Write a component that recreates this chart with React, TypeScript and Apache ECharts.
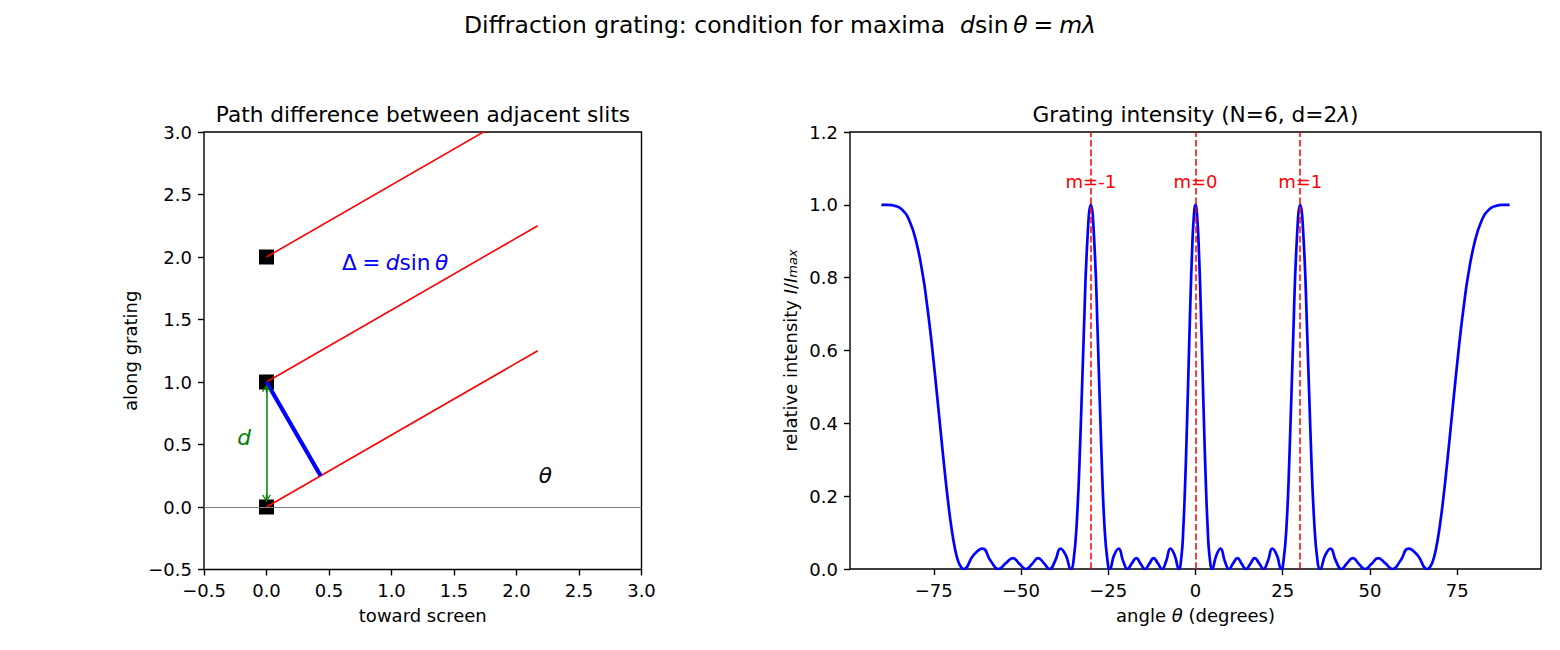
import React, { useEffect, useRef } from "react";
import * as echarts from "echarts";

// ---------------- Left panel (geometry) ----------------
const slitPositions: [number, number][] = [[0, 0], [0, 1], [0, 2]];
const rayEnds: [number, number][] = [[2.17, 1.25], [2.17, 2.25], [2.17, 3.25]];
const pathDiffSegment: [number, number][] = [[0, 1], [0.433, 0.25]];
const spacingArrow: [number, number][] = [[0, 0.07], [0, 0.95]];
const baselineY = 0;
const annotationTexts = ["{n|Δ\u2005=\u2005}{i|d}{n|sin\u2009}{i|θ}", "{i|d}", "{i|θ}"];
const annotationX = [0.6, -0.18, 2.23];
const annotationY = [1.96, 0.56, 0.256];

// ---------------- Right panel (intensity) ----------------
const intensityCurve: [number, number][] = [
  [-90, 1], [-88, 1], [-86, 0.997], [-84, 0.986], [-82, 0.957], [-80, 0.898], [-78, 0.799], [-77, 0.731],
  [-76, 0.654], [-75, 0.566], [-74, 0.472], [-73, 0.376], [-72, 0.281], [-71, 0.193], [-70, 0.118], [-69, 0.06],
  [-68, 0.021], [-67, 0.003], [-66.44, 0], [-63.61, 0.038], [-61.04, 0.056], [-58.67, 0.022], [-56.44, 0],
  [-54.34, 0.016], [-52.33, 0.03], [-50.43, 0.014], [-48.59, 0], [-46.82, 0.014], [-45.1, 0.03], [-43.43, 0.016],
  [-41.81, 0], [-40.23, 0.022], [-38.68, 0.056], [-37.17, 0.038], [-35.69, 0], [-35, 0.018], [-34, 0.131],
  [-33, 0.358], [-32, 0.649], [-31, 0.9], [-30, 1], [-29, 0.898], [-28, 0.637], [-27, 0.333], [-26, 0.104],
  [-25, 0.006], [-24.62, 0], [-23.32, 0.038], [-22.02, 0.056], [-20.74, 0.022], [-19.47, 0], [-18.21, 0.016],
  [-16.96, 0.03], [-15.71, 0.014], [-14.48, 0], [-13.25, 0.014], [-12.02, 0.03], [-10.81, 0.016], [-9.59, 0],
  [-8.39, 0.022], [-7.18, 0.056], [-5.98, 0.038], [-4.78, 0], [-4, 0.037], [-3.5, 0.11], [-3, 0.226],
  [-2.5, 0.377], [-2, 0.55], [-1.5, 0.722], [-1, 0.867], [-0.5, 0.965], [0, 1],
  [0.5, 0.965], [1, 0.867], [1.5, 0.722], [2, 0.55], [2.5, 0.377], [3, 0.226], [3.5, 0.11], [4, 0.037],
  [4.78, 0], [5.98, 0.038], [7.18, 0.056], [8.39, 0.022], [9.59, 0], [10.81, 0.016], [12.02, 0.03],
  [13.25, 0.014], [14.48, 0], [15.71, 0.014], [16.96, 0.03], [18.21, 0.016], [19.47, 0], [20.74, 0.022],
  [22.02, 0.056], [23.32, 0.038], [24.62, 0], [25, 0.006], [26, 0.104], [27, 0.333], [28, 0.637], [29, 0.898],
  [30, 1], [31, 0.9], [32, 0.649], [33, 0.358], [34, 0.131], [35, 0.018], [35.69, 0], [37.17, 0.038],
  [38.68, 0.056], [40.23, 0.022], [41.81, 0], [43.43, 0.016], [45.1, 0.03], [46.82, 0.014], [48.59, 0],
  [50.43, 0.014], [52.33, 0.03], [54.34, 0.016], [56.44, 0], [58.67, 0.022], [61.04, 0.056], [63.61, 0.038],
  [66.44, 0], [67, 0.003], [68, 0.021], [69, 0.06], [70, 0.118], [71, 0.193], [72, 0.281], [73, 0.376],
  [74, 0.472], [75, 0.566], [76, 0.654], [77, 0.731], [78, 0.799], [80, 0.898], [82, 0.957], [84, 0.986],
  [86, 0.997], [88, 1], [90, 1],
];
const orderAngles = [-30, 0, 30];
const orderLabels = ["m=-1", "m=0", "m=1"];
const orderLabelY = 1.064;
const angleTicks = [-75, -50, -25, 0, 25, 50, 75];

// ---------------- styling ----------------
const FONT = "DejaVu Sans";
const TITLE = 21.67;
const TICK = 18;
const minus = (s: string) => s.replace("-", "\u2212");
const fmt1 = (v: number) => minus(v.toFixed(1) === "-0.0" ? "0.0" : v.toFixed(1));
const fmt0 = (v: number) => minus(String(Math.round(v)));

const chevron =
  "path://M5,0 L10,9 L8.8,9.8 L5.8,4.4 L5.8,10 L4.2,10 L4.2,4.4 L1.2,9.8 L0,9 Z";

function axisBase(extra: any) {
  return {
    type: "value",
    nameLocation: "middle",
    axisLine: { show: false, onZero: false },
    axisTick: { show: true, inside: false, length: 6, lineStyle: { color: "#000", width: 1.4 } },
    axisLabel: { color: "#000", fontSize: TICK, fontFamily: FONT, margin: 12 },
    splitLine: { show: false },
    nameTextStyle: { color: "#000", fontSize: TICK, fontFamily: FONT },
    ...extra,
  };
}

function buildOption(): any {
  const gridCommon = {
    show: true,
    borderColor: "#000",
    borderWidth: 1.4,
    backgroundColor: "transparent",
    containLabel: false,
    outerBoundsMode: "none",
  };
  const richItalic = (size: number, color: string) => ({
    i: { fontStyle: "italic", fontSize: size, fontFamily: FONT, color },
    n: { fontSize: size, fontFamily: FONT, color },
  });

  return {
    animation: false,
    backgroundColor: "#ffffff",
    textStyle: { fontFamily: FONT },
    grid: [
      { ...gridCommon, left: 204, top: 132, width: 437.5, height: 437.5 },
      { ...gridCommon, left: 850, top: 132, width: 691, height: 437 },
    ],
    xAxis: [
      axisBase({
        gridIndex: 0,
        min: -0.5,
        max: 3.0,
        interval: 0.5,
        name: "toward screen",
        nameGap: 37,
        axisLabel: { color: "#000", fontSize: TICK, fontFamily: FONT, margin: 12, formatter: fmt1 },
      }),
      axisBase({
        gridIndex: 1,
        min: -99,
        max: 99,
        name: "angle {i|θ} (degrees)",
        nameGap: 37,
        nameTextStyle: {
          color: "#000",
          fontSize: TICK,
          fontFamily: FONT,
          rich: { i: { fontStyle: "italic", fontSize: TICK, fontFamily: FONT, color: "#000" } },
        },
        axisTick: {
          show: true,
          inside: false,
          length: 6,
          customValues: angleTicks,
          lineStyle: { color: "#000", width: 1.4 },
        },
        axisLabel: {
          color: "#000",
          fontSize: TICK,
          fontFamily: FONT,
          margin: 12,
          customValues: angleTicks,
          formatter: fmt0,
        },
      }),
    ],
    yAxis: [
      axisBase({
        gridIndex: 0,
        min: -0.5,
        max: 3.0,
        interval: 0.5,
        name: "along grating",
        nameGap: 65,
        axisLabel: { color: "#000", fontSize: TICK, fontFamily: FONT, margin: 12, formatter: fmt1 },
      }),
      axisBase({
        gridIndex: 1,
        min: 0,
        max: 1.2,
        interval: 0.2,
        name: "relative intensity {i|I}/{i|I}{s|max}",
        nameGap: 51,
        nameTextStyle: {
          color: "#000",
          fontSize: TICK,
          fontFamily: FONT,
          rich: {
            i: { fontStyle: "italic", fontSize: TICK, fontFamily: FONT, color: "#000" },
            s: {
              fontStyle: "italic",
              fontSize: 13,
              fontFamily: FONT,
              color: "#000",
              verticalAlign: "bottom",
              lineHeight: 11,
            },
          },
        },
        axisLabel: { color: "#000", fontSize: TICK, fontFamily: FONT, margin: 12, formatter: fmt1 },
      }),
    ],
    graphic: [
      {
        type: "text",
        x: 780,
        y: 25,
        style: {
          text: "Diffraction grating: condition for maxima  {i|d}sin\u2009{i|θ}\u2005=\u2005{i|mλ}",
          fontSize: 23.5,
          fontFamily: FONT,
          fill: "#000",
          align: "center",
          verticalAlign: "middle",
          rich: { i: { fontStyle: "italic", fontSize: 23.5, fontFamily: FONT, fill: "#000" } },
        },
      },
      {
        type: "text",
        x: 423,
        y: 114,
        style: {
          text: "Path difference between adjacent slits",
          fontSize: TITLE,
          fontFamily: FONT,
          fill: "#000",
          align: "center",
          verticalAlign: "middle",
        },
      },
      {
        type: "text",
        x: 1195.5,
        y: 114,
        style: {
          text: "Grating intensity (N=6, d=2{i|λ})",
          fontSize: TITLE,
          fontFamily: FONT,
          fill: "#000",
          align: "center",
          verticalAlign: "middle",
          rich: { i: { fontStyle: "italic", fontSize: TITLE, fontFamily: FONT, fill: "#000" } },
        },
      },
    ],
    series: [
      // --- left panel ---
      {
        type: "line",
        xAxisIndex: 0,
        yAxisIndex: 0,
        data: [],
        markLine: {
          silent: true,
          symbol: ["none", "none"],
          label: { show: false },
          lineStyle: { color: "#808080", width: 1, type: "solid" },
          data: [{ yAxis: baselineY }],
        },
      },
      {
        type: "scatter",
        xAxisIndex: 0,
        yAxisIndex: 0,
        symbol: "rect",
        symbolSize: 15,
        itemStyle: { color: "#000", opacity: 1 },
        data: slitPositions,
      },
      ...slitPositions.map((p, i) => ({
        type: "line",
        xAxisIndex: 0,
        yAxisIndex: 0,
        symbol: "none",
        lineStyle: { color: "#ff0000", width: 1.6 },
        data: [p, rayEnds[i]],
      })),
      {
        type: "line",
        xAxisIndex: 0,
        yAxisIndex: 0,
        symbol: "none",
        lineStyle: { color: "#0000ff", width: 4.2 },
        data: pathDiffSegment,
      },
      {
        type: "line",
        xAxisIndex: 0,
        yAxisIndex: 0,
        data: [],
        markLine: {
          silent: true,
          symbol: [chevron, chevron],
          symbolSize: [9, 8],
          label: { show: false },
          lineStyle: { color: "#008000", width: 1.5, type: "solid" },
          itemStyle: { color: "#008000" },
          data: [[{ coord: spacingArrow[0] }, { coord: spacingArrow[1] }]],
        },
      },
      {
        type: "scatter",
        xAxisIndex: 0,
        yAxisIndex: 0,
        symbolSize: 1,
        itemStyle: { color: "rgba(0,0,0,0)", opacity: 1 },
        z: 10,
        data: annotationTexts.map((t, i) => ({
          value: [annotationX[i], annotationY[i]],
          label: {
            show: true,
            position: i === 0 ? "right" : "inside",
            distance: 0,
            formatter: t,
            rich: richItalic(TITLE, ["#0000ff", "#008000", "#000000"][i]),
          },
        })),
      },
      // --- right panel ---
      {
        type: "line",
        xAxisIndex: 1,
        yAxisIndex: 1,
        symbol: "none",
        smooth: true,
        lineStyle: { color: "#0000ff", width: 2.7 },
        data: intensityCurve,
      },
      {
        type: "line",
        xAxisIndex: 1,
        yAxisIndex: 1,
        data: [],
        markLine: {
          silent: true,
          symbol: ["none", "none"],
          label: { show: false },
          lineStyle: { color: "#ff0000", width: 1.5, type: [6.7, 2.9] },
          data: orderAngles.map((a) => ({ xAxis: a })),
        },
      },
      {
        type: "scatter",
        xAxisIndex: 1,
        yAxisIndex: 1,
        symbolSize: 1,
        itemStyle: { color: "rgba(0,0,0,0)", opacity: 1 },
        z: 10,
        data: orderAngles.map((a, i) => ({
          value: [a, orderLabelY],
          label: {
            show: true,
            position: "inside",
            formatter: orderLabels[i],
            color: "#ff0000",
            fontSize: TICK,
            fontFamily: FONT,
          },
        })),
      },
    ],
  };
}

export default function App() {
  const ref = useRef<HTMLDivElement>(null);
  useEffect(() => {
    document.body.style.margin = "0";
    if (!ref.current) return;
    const chart = echarts.init(ref.current, null, { renderer: "svg", width: 1560, height: 650 });
    chart.setOption(buildOption());
    return () => chart.dispose();
  }, []);
  return (
    <div
      ref={ref}
      style={{ width: 1560, height: 650, position: "absolute", left: 0, top: 0, background: "#fff" }}
    />
  );
}
